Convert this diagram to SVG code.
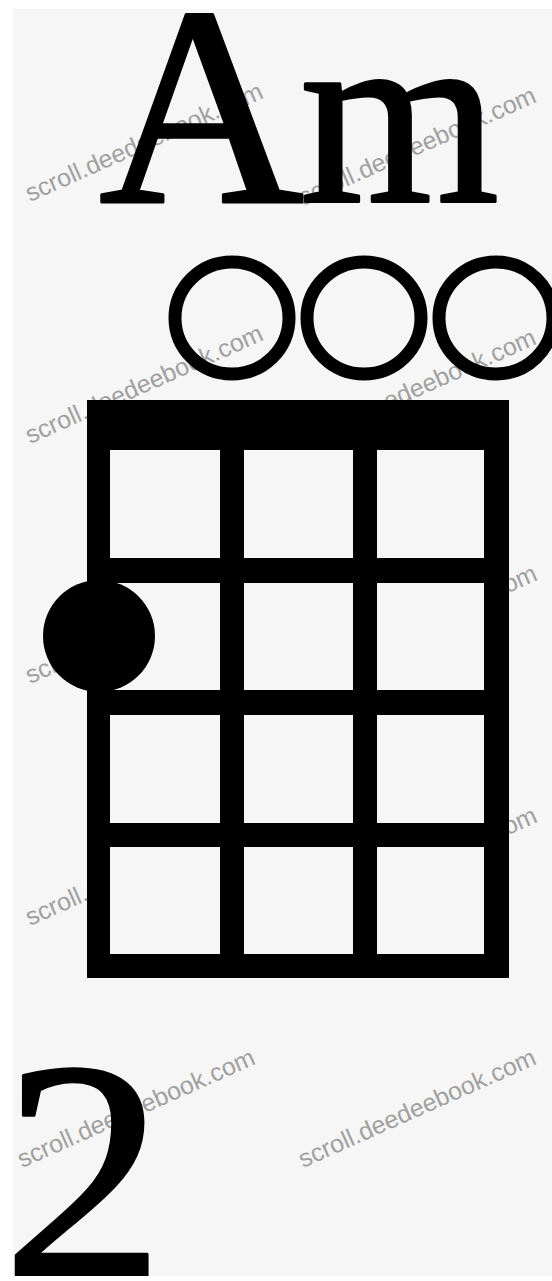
<svg xmlns="http://www.w3.org/2000/svg" width="552" height="1281" viewBox="0 0 552 1281">
  <style>
    .wm { font-family: "Liberation Sans", Arial, sans-serif; font-size: 25px; fill: #a0a0a0; }
    .big { font-family: "Liberation Serif", "Times New Roman", serif; fill: #000; stroke: #000; stroke-width: 3; stroke-linejoin: round; }
    .cell { fill: #f6f6f6; }
    .open { fill: none; stroke: #000; stroke-width: 13; }
  </style>
  <defs>
    <text id="wmText" class="wm">scroll.deedeebook.com</text>
  </defs>
  <rect x="0" y="0" width="552" height="1281" fill="#f6f6f6"/>

  <g id="watermarks">
    <use href="#wmText" transform="translate(30,202) rotate(-24)"/>
    <use href="#wmText" transform="translate(303,206) rotate(-24)"/>
    <use href="#wmText" transform="translate(30,444) rotate(-24)"/>
    <use href="#wmText" transform="translate(303,448) rotate(-24)"/>
    <use href="#wmText" transform="translate(30,684) rotate(-24)"/>
    <use href="#wmText" transform="translate(304,684) rotate(-24)"/>
    <use href="#wmText" transform="translate(30,926) rotate(-24)"/>
    <use href="#wmText" transform="translate(304,926) rotate(-24)"/>
    <use href="#wmText" transform="translate(22,1168) rotate(-24)"/>
    <use href="#wmText" transform="translate(303,1168) rotate(-24)"/>
  </g>

  <g id="chord-name">
    <text class="big" y="202"><tspan x="99" font-size="284">A</tspan><tspan x="300" font-size="256">m</tspan></text>
  </g>

  <g id="open-strings">
    <ellipse class="open" cx="232" cy="318" rx="57" ry="56"/>
    <ellipse class="open" cx="364" cy="318" rx="57" ry="56"/>
    <ellipse class="open" cx="496" cy="318" rx="57" ry="56"/>
  </g>

  <g id="fretboard">
    <rect x="87" y="400" width="422" height="578" fill="#000"/>
    <rect class="cell" x="110" y="450" width="110" height="108"/>
    <rect class="cell" x="244" y="450" width="109" height="108"/>
    <rect class="cell" x="377" y="450" width="107" height="108"/>
    <rect class="cell" x="110" y="583" width="110" height="107"/>
    <rect class="cell" x="244" y="583" width="109" height="107"/>
    <rect class="cell" x="377" y="583" width="107" height="107"/>
    <rect class="cell" x="110" y="715" width="110" height="108"/>
    <rect class="cell" x="244" y="715" width="109" height="108"/>
    <rect class="cell" x="377" y="715" width="107" height="108"/>
    <rect class="cell" x="110" y="847" width="110" height="107"/>
    <rect class="cell" x="244" y="847" width="109" height="107"/>
    <rect class="cell" x="377" y="847" width="107" height="107"/>
  </g>

  <g id="finger-dot">
    <circle cx="99" cy="636" r="56" fill="#000"/>
  </g>

  <g id="fret-number">
    <text class="big" x="2" y="1278" font-size="316" textLength="163" lengthAdjust="spacingAndGlyphs">2</text>
  </g>

  <g id="border" fill="#ffffff">
    <rect x="0" y="0" width="13" height="1281"/>
    <rect x="0" y="0" width="552" height="9"/>
    <rect x="0" y="1276" width="552" height="5"/>
  </g>
</svg>
